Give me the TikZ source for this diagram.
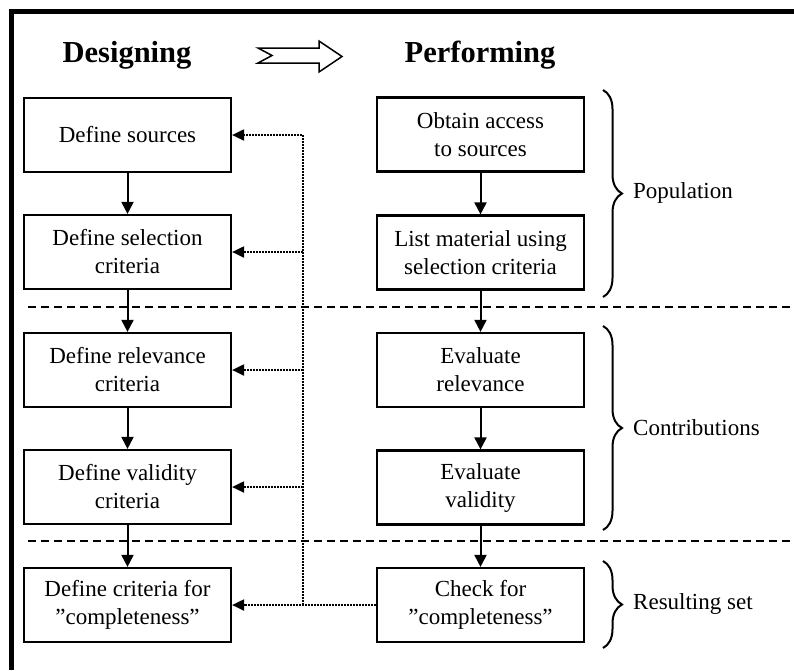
\documentclass[tikz,border=0pt]{standalone}
\usepackage{fontspec}
\setmainfont{Liberation Serif}
\usetikzlibrary{arrows.meta,decorations.pathreplacing}
\tikzset{
  box/.style={draw, line width=2.2pt, minimum width=207pt, minimum height=74pt,
    align=center, inner sep=0pt, font=\fontsize{23}{28}\selectfont},
  flow/.style={-{Triangle[length=12pt,width=12pt]}, line width=2pt},
  dotarrow/.style={-{Triangle[length=12pt,width=11pt]}, line width=2pt,
    dash pattern=on 1.6pt off 1.4pt},
  sepline/.style={line width=2.2pt, dash pattern=on 8pt off 5pt},
  bracestyle/.style={decorate, decoration={brace, amplitude=19pt}, line width=2pt},
  lbl/.style={anchor=west, inner sep=0pt, font=\fontsize{23}{28}\selectfont},
  head/.style={anchor=base, inner sep=0pt, font=\fontsize{30.5}{36}\selectfont\bfseries},
}
\begin{document}
\begin{tikzpicture}[x=1pt,y=-1pt]
\useasboundingbox (0,0) rectangle (794,670);
% frame
\draw[line width=5pt, line join=miter] (11.5,670) -- (11.5,11.5) -- (794,11.5);
% headers
\node[head] (hd) at (127,62) {Designing};
\node[head] (hp) at (480,62) {Performing};
\draw[line width=1.5pt, line join=miter, fill=white]
  (258,48) -- (272,55.5) -- (258,63) -- (319,63) -- (319,72) -- (342,56.5)
  -- (319,41) -- (319,48) -- cycle;
% separators
\coordinate (s1a) at (28,307); \coordinate (s1b) at (794,307);
\coordinate (s2a) at (28,541); \coordinate (s2b) at (794,541);
\draw[sepline] (s1a) -- (s1b);
\draw[sepline] (s2a) -- (s2b);
% left column
\node[box] (L1) at (127.5,135) {Define sources};
\node[box] (L2) at (127.5,252) {Define selection\\criteria};
\node[box] (L3) at (127.5,370) {Define relevance\\criteria};
\node[box] (L4) at (127.5,487) {Define validity\\criteria};
\node[box] (L5) at (127.5,605) {Define criteria for\\”completeness”};
% right column
\node[box] (R1) at (480.5,134.5) {Obtain access\\to sources};
\node[box] (R2) at (480.5,252.5) {List material using\\selection criteria};
\node[box] (R3) at (480.5,370) {Evaluate\\relevance};
\node[box] (R4) at (480.5,487.5) {Evaluate\\validity};
\node[box] (R5) at (480.5,605) {Check for\\”completeness”};
% flows
\draw[flow] (L1) -- (L2);
\draw[flow] (L2) -- (L3);
\draw[flow] (L3) -- (L4);
\draw[flow] (L4) -- (L5);
\draw[flow] (R1) -- (R2);
\draw[flow] (R2) -- (R3);
\draw[flow] (R3) -- (R4);
\draw[flow] (R4) -- (R5);
% dotted feedback
\coordinate (v5) at (303,605);
\draw[dotarrow] (R5.west) -- (L5.east);
\draw[dotarrow] (v5) |- (L1.east);
\draw[dotarrow] (v5 |- L2.east) -- (L2.east);
\draw[dotarrow] (v5 |- L3.east) -- (L3.east);
\draw[dotarrow] (v5 |- L4.east) -- (L4.east);
% braces
\coordinate (b1t) at (603,90);  \coordinate (b1b) at (603,297);
\coordinate (b2t) at (603,326); \coordinate (b2b) at (603,530);
\coordinate (b3t) at (603,561); \coordinate (b3b) at (603,648);
\draw[bracestyle] (b1t) -- (b1b);
\draw[bracestyle] (b2t) -- (b2b);
\draw[bracestyle] (b3t) -- (b3b);
\node[lbl] (p1) at (633,193) {Population};
\node[lbl] (p2) at (633,428) {Contributions};
\node[lbl] (p3) at (633,604) {Resulting set};
\end{tikzpicture}
\end{document}
